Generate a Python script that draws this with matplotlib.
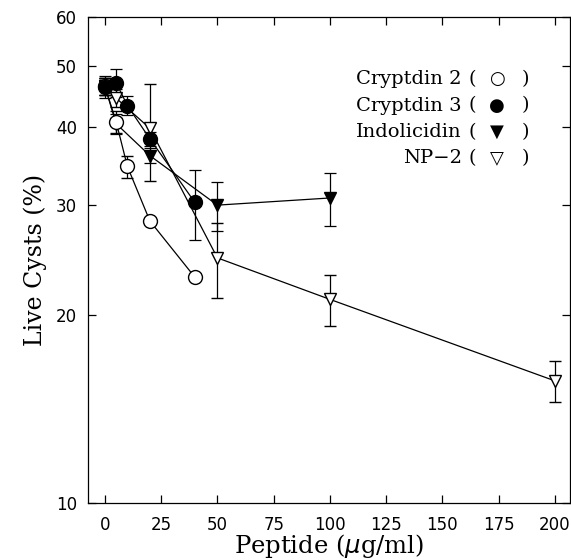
import numpy as np
import matplotlib.pyplot as plt
from matplotlib.ticker import FixedLocator, NullLocator, FixedFormatter

# data (peptide ug/ml vs % live cysts)
c2_x = [0, 5, 10, 20, 40]
c2_y = [46.5, 40.8, 34.6, 28.3, 23.0]
c2_err = [1.5, 1.6, 1.4, 0, 0]

c3_x = [0, 5, 10, 20, 40]
c3_y = [46.4, 47.1, 43.3, 38.3, 30.3]
c3_err = [1.8, 2.4, 1.5, 1.0, 3.9]

ind_x = [0, 5, 20, 50, 100]
ind_y = [46.5, 40.5, 36.0, 30.0, 30.8]
ind_err = [1.5, 1.5, 1.0, 2.7, 3.0]

np2_x = [0, 5, 20, 50, 100, 200]
np2_y = [46.5, 44.5, 39.8, 24.7, 21.2, 15.7]
np2_err = [1.5, 1.5, 7.0, 3.4, 2.0, 1.2]

x_ticks = [0, 25, 50, 75, 100, 125, 150, 175, 200]
y_ticks = [10, 20, 30, 40, 50, 60]

legend_names = ['Cryptdin 2', 'Cryptdin 3', 'Indolicidin', 'NP\u22122']
legend_glyphs = ['\u25cb', '\u25cf', '\u25bc', '\u25bd']

fig = plt.figure(figsize=(5.71, 5.6), dpi=100)
ax = fig.add_axes([88 / 571, 56.7 / 560, 482 / 571, 486.3 / 560])

common = dict(color='black', lw=0.9, elinewidth=0.9, capsize=4, capthick=0.9)
ax.errorbar(np2_x, np2_y, yerr=np2_err, marker='v', ms=9, mfc='white', mec='black', mew=1.0, **common)
ax.errorbar(ind_x, ind_y, yerr=ind_err, marker='v', ms=9, mfc='black', mec='black', **common)
ax.errorbar(c2_x, c2_y, yerr=c2_err, marker='o', ms=10, mfc='white', mec='black', mew=1.0, **common)
ax.errorbar(c3_x, c3_y, yerr=c3_err, marker='o', ms=10, mfc='black', mec='black', **common)

ax.set_yscale('log')
ax.set_xlim(-7.5, 206.7)
ax.set_ylim(10, 60)
ax.xaxis.set_major_locator(FixedLocator(x_ticks))
ax.yaxis.set_major_locator(FixedLocator(y_ticks))
ax.yaxis.set_major_formatter(FixedFormatter([str(v) for v in y_ticks]))
ax.yaxis.set_minor_locator(NullLocator())
ax.tick_params(direction='in', length=6, width=0.9, top=True, right=True,
               labelsize=12, labelfontfamily='DejaVu Sans')
ax.tick_params(axis='x', pad=9)
ax.tick_params(axis='y', pad=8)
for s in ax.spines.values():
    s.set_linewidth(0.9)

ax.set_xlabel(r'Peptide ($\mu$g/ml)', fontsize=17.5, family='DejaVu Serif', labelpad=-1)
ax.set_ylabel('Live Cysts (%)', fontsize=17, family='DejaVu Serif', labelpad=6)

# legend built from text pieces: name ( glyph )
for i, (name, g) in enumerate(zip(legend_names, legend_glyphs)):
    yy = 0.872 - i * 0.054
    kw = dict(transform=ax.transAxes, va='center', family=['DejaVu Serif', 'DejaVu Sans'])
    ax.text(0.775, yy, name, ha='right', fontsize=14, **kw)
    ax.text(0.797, yy, '(', ha='center', fontsize=14, **kw)
    ax.text(0.848, yy, g, ha='center', fontsize=13, **kw)
    ax.text(0.907, yy, ')', ha='center', fontsize=14, **kw)

fig.savefig('out.png', dpi=100)
